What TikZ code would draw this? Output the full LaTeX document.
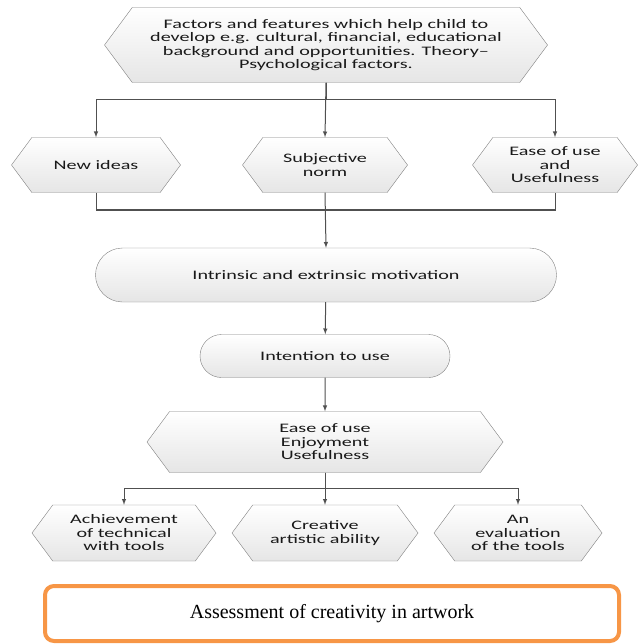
\documentclass[tikz,border=0pt]{standalone}
\usepackage{fontspec}
\setmainfont{Liberation Serif}
\newfontfamily\diafont[FakeStretch=1.55]{Carlito}
\usetikzlibrary{shapes.symbols,shapes.misc,arrows}
\definecolor{boxline}{HTML}{808080}
\definecolor{arrline}{HTML}{505050}
\definecolor{assessorange}{HTML}{F79646}

\begin{document}
\begin{tikzpicture}[
        x=1pt, y=-1pt, % pixel-like grid, y downwards
        every node/.style={font=\diafont\fontsize{13}{13.5}\selectfont, align=center, text=black!90},
        hexbox/.style={draw=boxline, signal, signal to=east and west, signal pointer angle=107, top color=white, bottom color=gray!20, inner sep=0pt},
        pillbox/.style={draw=boxline, rounded rectangle, top color=white, bottom color=gray!20, inner sep=0pt},
        arr/.style={draw=arrline, line width=1pt, -latex},
        joinline/.style={draw=arrline, line width=1pt}
    ]
    \useasboundingbox (0,0) rectangle (638,644);
    % Top node
    \node[hexbox, minimum width=443pt, minimum height=75pt] (factors) at (326,45) {Factors and features which help child to\\develop e.g. cultural, financial, educational\\background and opportunities. Theory–\\Psychological factors.};
    % Second row
    \node[hexbox, minimum width=169pt, minimum height=55pt] (newi) at (96,165) {New ideas};
    \node[hexbox, minimum width=165pt, minimum height=55pt] (subj) at (325,165) {Subjective\\norm};
    \node[hexbox, minimum width=165pt, minimum height=55pt] (easeu) at (555,165) {Ease of use\\and\\Usefulness};
    % Middle
    \node[pillbox, minimum width=461pt, minimum height=54pt] (motiv) at (326,275) {Intrinsic and extrinsic motivation};
    \node[pillbox, minimum width=250pt, minimum height=43pt] (intent) at (325,356) {Intention to use};
    \node[hexbox, minimum width=356pt, minimum height=61pt] (eue) at (325,442) {Ease of use\\Enjoyment\\Usefulness};
    % Bottom row
    \node[hexbox, minimum width=184pt, minimum height=56pt] (ach) at (124,533) {Achievement\\of technical\\with tools};
    \node[hexbox, minimum width=186pt, minimum height=56pt] (crea) at (325,533) {Creative\\artistic ability};
    \node[hexbox, minimum width=168pt, minimum height=56pt] (evalt) at (518,533) {An\\evaluation\\of the tools};
    \node[draw=assessorange, line width=4pt, rounded corners=9pt, minimum width=574pt, minimum height=55pt, text=black, font=\rmfamily\fontsize{20}{24}\selectfont] (assess) at (332,613.5) {Assessment of creativity in artwork};
    % Connectors
    \coordinate (merge) at (325,210);
    \draw[arr] (factors.south) -- (subj.north);
    \draw[arr] (factors.south) -- ++(0,17) -| (newi.north);
    \draw[arr] (factors.south) -- ++(0,17) -| (easeu.north);
    \draw[joinline] (newi.south) |- (merge) -| (easeu.south);
    \draw[arr] (subj.south) -- (motiv.north);
    \draw[arr] (motiv) -- (intent);
    \draw[arr] (intent) -- (eue);
    \draw[arr] (eue.south) -- (crea.north);
    \draw[arr] (eue.south) -- ++(0,16) -| (ach.north);
    \draw[arr] (eue.south) -- ++(0,16) -| (evalt.north);
\end{tikzpicture}
\end{document}
